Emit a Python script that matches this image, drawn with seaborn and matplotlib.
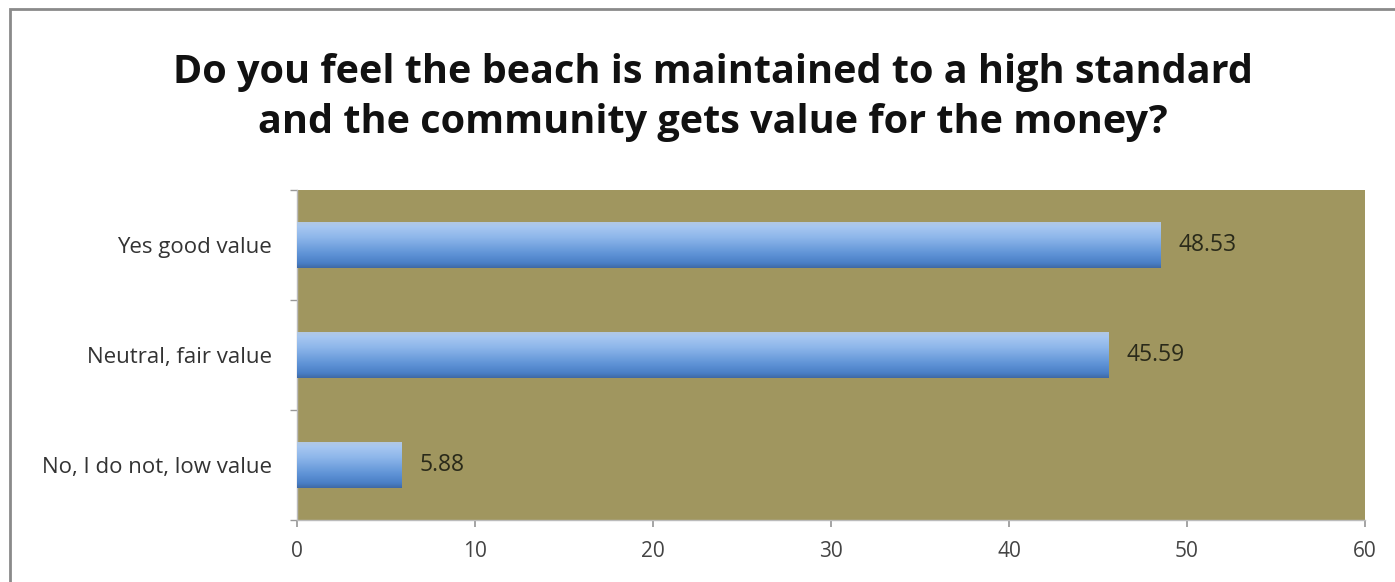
import matplotlib
matplotlib.use("Agg")
import matplotlib.pyplot as plt
import numpy as np
import pandas as pd
import seaborn as sns
from matplotlib.colors import LinearSegmentedColormap
from matplotlib.patches import Rectangle

# ---- data ----
categories = ["Yes good value", "Neutral, fair value", "No, I do not, low value"]
percentages = [48.53, 45.59, 5.88]
x_ticks = [0, 10, 20, 30, 40, 50, 60]
title = ("Do you feel the beach is maintained to a high standard\n"
         "and the community gets value for the money?")

df = pd.DataFrame({"answer": categories, "pct": percentages})

sns.set_theme(style="white")
plt.rcParams["font.family"] = ["Open Sans", "DejaVu Sans"]

fig = plt.figure(figsize=(13.95, 5.82), dpi=100)
ax = fig.add_axes([297 / 1395, 1 - 520 / 582, (1365 - 297) / 1395, (520 - 190) / 582])
ax.set_facecolor("#A0965F")

sns.barplot(data=df, x="pct", y="answer", orient="h", width=0.42,
            color="#6C9BDB", edgecolor="none", ax=ax)

# excel-like vertical gradient on each bar
grad_cmap = LinearSegmentedColormap.from_list(
    "bar", [(0.0, "#b4c8e0"), (0.12, "#a6c6f0"), (0.35, "#8db6ea"),
            (0.7, "#5f93d6"), (0.9, "#4a7fc6"), (1.0, "#3f6aa6")])
grad = np.linspace(0, 1, 64).reshape(-1, 1)
for p in ax.patches:
    x0, y0, w, h = p.get_x(), p.get_y(), p.get_width(), p.get_height()
    im = ax.imshow(grad, extent=(x0, x0 + w, y0 + h, y0), origin="upper",
                   aspect="auto", cmap=grad_cmap, zorder=3)
    im.set_clip_path(p)
    ax.text(x0 + w + 1.0, y0 + h / 2, f"{w:.2f}", va="center", ha="left",
            fontsize=16.5, color="#2a2a1a", zorder=4)

ax.set_xlim(0, 60)
ax.set_ylim(2.5, -0.5)
ax.set_xticks(x_ticks)
ax.set_xticklabels([str(t) for t in x_ticks], fontsize=15, color="#444444")
ax.set_yticks(range(len(categories)))
ax.set_yticklabels(categories, fontsize=16, color="#333333")
ax.set_yticks([-0.5, 0.5, 1.5, 2.5], minor=True)
ax.tick_params(axis="y", which="major", length=0, pad=18)
ax.tick_params(axis="y", which="minor", length=5, color="#999999", direction="out", left=True)
ax.tick_params(axis="x", which="major", length=5, color="#999999", direction="out",
               bottom=True, pad=10)
ax.set_xlabel("")
ax.set_ylabel("")
for side in ["top", "right"]:
    ax.spines[side].set_visible(False)
for side in ["left", "bottom"]:
    ax.spines[side].set_color("#bbbbbb")
    ax.spines[side].set_linewidth(1.0)

fig.text(0.511, 0.8325, title, ha="center", va="center", fontsize=28.5,
         fontweight="bold", color="#111111", linespacing=1.35)

# outer chart frame
fig.patches.append(Rectangle((10 / 1395, -0.1), 1.2, 1 - 9 / 582 + 0.1,
                             transform=fig.transFigure, fill=False,
                             edgecolor="#8a8a8a", linewidth=2.0))

fig.savefig("out.png", dpi=100)
